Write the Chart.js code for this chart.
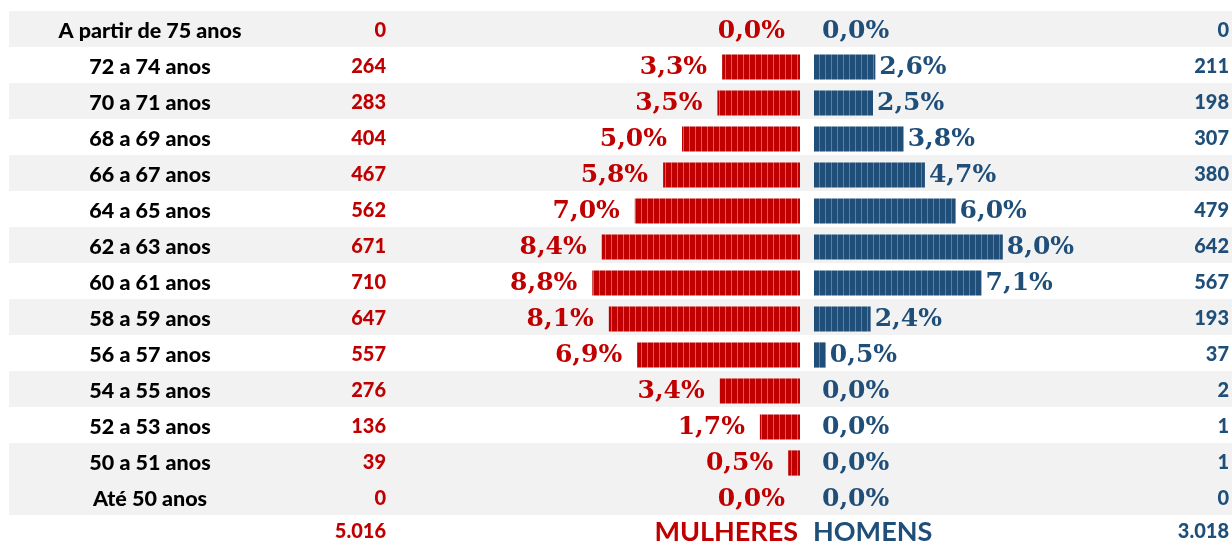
<!DOCTYPE html>
<html>
<head>
<meta charset="utf-8">
<script src="https://cdn.jsdelivr.net/npm/chart.js@4"></script>
<style>
  html, body { margin: 0; padding: 0; background: #fff; }
  #wrap { position: relative; width: 1232px; height: 545px; overflow: hidden; }
  canvas { position: absolute; top: 0; }
</style>
</head>
<body>
<div id="wrap">
  <canvas id="chart-women" width="814" height="545" style="left:0"></canvas>
  <canvas id="chart-men" width="418" height="545" style="left:814px"></canvas>
</div>
<script>
// Data
const ageLabels  = ["A partir de 75 anos", "72 a 74 anos", "70 a 71 anos", "68 a 69 anos", "66 a 67 anos",
                    "64 a 65 anos", "62 a 63 anos", "60 a 61 anos", "58 a 59 anos", "56 a 57 anos",
                    "54 a 55 anos", "52 a 53 anos", "50 a 51 anos", "Até 50 anos"];
const womenPct   = [0.0, 3.3, 3.5, 5.0, 5.8, 7.0, 8.4, 8.8, 8.1, 6.9, 3.4, 1.7, 0.5, 0.0];
const menPct     = [0.0, 2.6, 2.5, 3.8, 4.7, 6.0, 8.0, 7.1, 2.4, 0.5, 0.0, 0.0, 0.0, 0.0];
const womenCount = [0, 264, 283, 404, 467, 562, 671, 710, 647, 557, 276, 136, 39, 0];
const menCount   = [0, 211, 198, 307, 380, 479, 642, 567, 193, 37, 2, 1, 1, 0];
const sideTitles = { women: "MULHERES", men: "HOMENS" };

// Styles
const RED  = "#c00000";
const BLUE = "#1f4e79";
const BAND = "#f2f2f2";
const greyRows = [0, 2, 4, 6, 8, 10, 12, 13];
const BAND_SHIFT = -2;
const PCT_FONT = "bold 25px 'DejaVu Serif'";
const NUM_FONT = "900 20px Lato";
const AGE_FONT = "900 21.5px Lato";
const TITLE_FONT = "bold 27px Lato";
const PX_PER_PCT = 23.6;
const AXIS_MAX = 10;

const fmtPct = v => v.toFixed(1).replace(".", ",") + "%";
const fmtInt = n => String(n).replace(/\B(?=(\d{3})+(?!\d))/g, ".");
const sum = a => a.reduce((t, v) => t + v, 0);

function stripes(base, line) {
    const c = document.createElement("canvas");
    c.width = 6; c.height = 6;
    const g = c.getContext("2d");
    g.fillStyle = base; g.fillRect(0, 0, 6, 6);
    g.fillStyle = line; g.fillRect(5, 0, 1, 6);
    return g.createPattern(c, "repeat");
}

// grey row bands, drawn behind the bars
function bandsPlugin(x0) {
    return {
        id: "bands",
        beforeDatasetsDraw(chart) {
            const { ctx, chartArea, scales } = chart;
            const rowH = (chartArea.bottom - chartArea.top) / ageLabels.length;
            ctx.save();
            ctx.fillStyle = BAND;
            greyRows.forEach(i => {
                const yc = scales.y.getPixelForValue(i) + BAND_SHIFT;
                ctx.fillRect(x0, yc - rowH / 2, chart.width - x0, rowH);
            });
            ctx.restore();
        }
    };
}

function textPlugin(side) {
    return {
        id: "texts",
        afterDatasetsDraw(chart) {
            const { ctx, chartArea, scales } = chart;
            const isW = side === "women";
            const pct = isW ? womenPct : menPct;
            const cnt = isW ? womenCount : menCount;
            const color = isW ? RED : BLUE;
            ctx.save();
            ctx.textBaseline = "middle";
            ageLabels.forEach((lab, i) => {
                const y = scales.y.getPixelForValue(i);
                const xEnd = scales.x.getPixelForValue(pct[i]);
                ctx.fillStyle = color;
                ctx.font = PCT_FONT;
                if (isW) {
                    ctx.textAlign = "right";
                    ctx.fillText(fmtPct(pct[i]), xEnd - 15, y);
                    ctx.font = NUM_FONT;
                    ctx.fillText(cnt[i], 386, y);
                    ctx.fillStyle = "#000";
                    ctx.font = AGE_FONT;
                    ctx.textAlign = "center";
                    ctx.fillText(lab, 150, y);
                } else {
                    ctx.textAlign = "left";
                    ctx.fillText(fmtPct(pct[i]), xEnd + (pct[i] ? 4 : 8), y);
                    ctx.font = NUM_FONT;
                    ctx.textAlign = "right";
                    ctx.fillText(cnt[i], chart.width - 3, y);
                }
            });
            // totals row
            const yT = chartArea.bottom + 15;
            ctx.fillStyle = color;
            ctx.font = NUM_FONT;
            ctx.textAlign = "right";
            ctx.fillText(fmtInt(sum(cnt)), isW ? 386 : chart.width - 3, yT);
            ctx.font = TITLE_FONT;
            if (isW) {
                ctx.textAlign = "right";
                ctx.fillText(sideTitles.women, chartArea.right - 2, yT);
            } else {
                ctx.textAlign = "left";
                ctx.fillText(sideTitles.men, -1, yT);
            }
            ctx.restore();
        }
    };
}

function makeChart(id, side, data, pattern, padding, bandX0) {
    return new Chart(document.getElementById(id), {
        type: "bar",
        data: {
            labels: ageLabels,
            datasets: [{
                data: data,
                backgroundColor: pattern,
                borderWidth: 0,
                categoryPercentage: 1,
                barPercentage: 0.7,
            }]
        },
        options: {
            indexAxis: "y",
            responsive: false,
            animation: false,
            layout: { padding },
            plugins: { legend: { display: false }, tooltip: { enabled: false } },
            scales: {
                x: { type: "linear", min: 0, max: AXIS_MAX, reverse: side === "women", display: false },
                y: { display: false, offset: true }
            }
        },
        plugins: [bandsPlugin(bandX0), textPlugin(side)]
    });
}

const wPad = { left: 814 - 14 - PX_PER_PCT * AXIS_MAX, right: 14, top: 13, bottom: 28 };
const mPad = { left: 0, right: 418 - PX_PER_PCT * AXIS_MAX, top: 13, bottom: 28 };

makeChart("chart-women", "women", womenPct, stripes(RED, "#dc5a5a"), wPad, 9);
makeChart("chart-men", "men", menPct, stripes(BLUE, "#5a7fa6"), mPad, 0);
</script>
</body>
</html>
